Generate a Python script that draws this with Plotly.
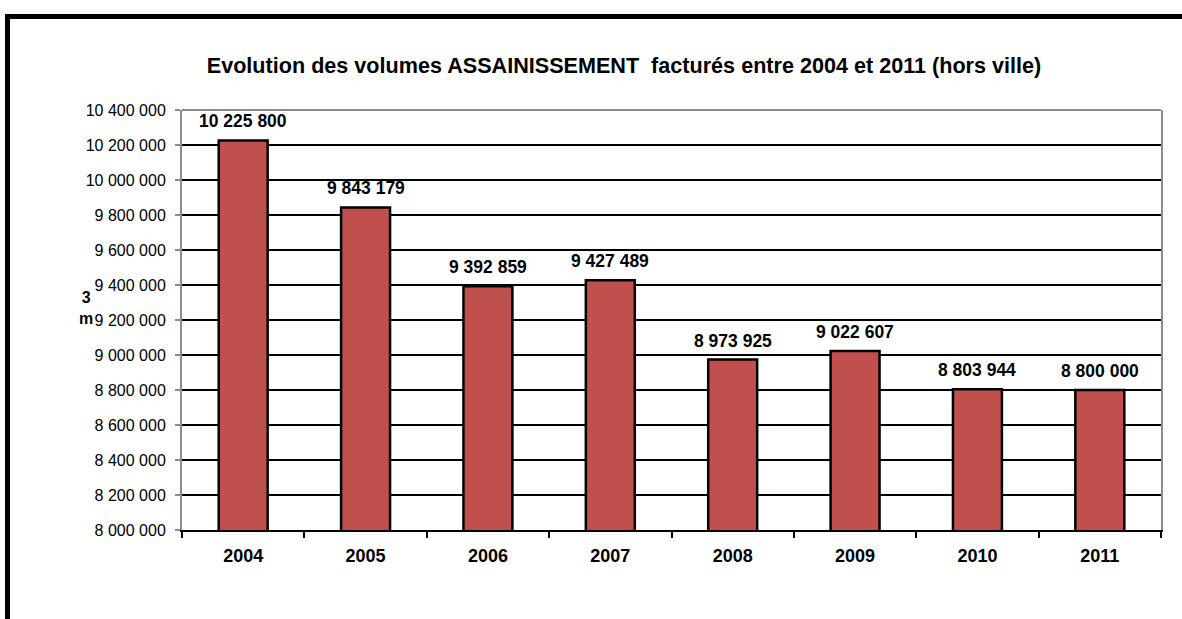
import plotly.graph_objects as go

years = ["2004", "2005", "2006", "2007", "2008", "2009", "2010", "2011"]
volumes = [10225800, 9843179, 9392859, 9427489, 8973925, 9022607, 8803944, 8800000]
y_ticks = list(range(8000000, 10400001, 200000))
y_tick_text = [f"{v:,}".replace(",", " ") for v in y_ticks]
bar_labels = [f"{v:,}".replace(",", " ") for v in volumes]

L, R, T, B = 182, 21, 110, 89
W, H = 1182, 619
pw, ph = W - L - R, H - T - B

def px_x(x):
    return (x - L) / pw

def px_y(y):
    return (H - B - y) / ph

FONT = "Liberation Sans, Arial"

fig = go.Figure(go.Bar(
    x=years, y=volumes,
    marker=dict(color="#C0504D", line=dict(color="black", width=2.5)),
    width=0.4,
))

# category axis: annotation x given as category index
annotations = [
    dict(x=i, y=v, xref="x", yref="y", text=f"<b>{lab}</b>", showarrow=False,
         yanchor="bottom", xanchor="center", yshift=7,
         font=dict(family=FONT, size=17.5, color="black"))
    for i, (v, lab) in enumerate(zip(volumes, bar_labels))
]
annotations.append(dict(
    text="<b>3<br>m</b>", xref="paper", yref="paper",
    x=px_x(86), y=px_y(308), xanchor="center", yanchor="middle",
    showarrow=False, font=dict(family=FONT, size=16, color="black"),
))

fig.update_layout(
    width=W, height=H,
    margin=dict(l=L, r=R, t=T, b=B),
    paper_bgcolor="white", plot_bgcolor="white",
    showlegend=False,
    font=dict(family=FONT, color="black"),
    title=dict(
        text="<b>Evolution des volumes ASSAINISSEMENT \u00a0facturés entre 2004 et 2011 (hors ville)</b>",
        x=624 / W, xanchor="center", y=1 - 65 / H, yanchor="middle",
        font=dict(family=FONT, size=21.6, color="black"),
    ),
    xaxis=dict(
        type="category", range=[-0.5, len(years) - 0.5],
        showline=True, linecolor="black", linewidth=2,
        ticks="outside", tickson="boundaries", ticklen=6, tickwidth=2, tickcolor="black",
        tickfont=dict(family=FONT, size=18, weight="bold", color="black"),
        ticklabelstandoff=8,
        showgrid=False,
    ),
    yaxis=dict(
        range=[8000000, 10400000], tickvals=y_ticks, ticktext=y_tick_text,
        showline=True, linecolor="#8c8c8c", linewidth=2, mirror=True,
        ticks="outside", ticklen=5, tickwidth=2, tickcolor="#8c8c8c",
        ticklabelstandoff=6,
        showgrid=True, gridcolor="black", gridwidth=2,
        tickfont=dict(family=FONT, size=16, color="black"),
        zeroline=False,
    ),
    annotations=annotations,
    shapes=[
        dict(type="line", xref="paper", yref="paper", x0=0, x1=1, y0=1, y1=1,
             line=dict(color="#8c8c8c", width=2), layer="above"),
        dict(type="path", xref="paper", yref="paper",
             path=f"M {px_x(7.5)},{px_y(640)} L {px_x(7.5)},{px_y(16.5)} L {px_x(1200)},{px_y(16.5)}",
             line=dict(color="black", width=5), layer="above"),
    ],
)

fig.write_html("out.html", config={"displayModeBar": False},
               post_script="document.body.style.margin='0';")
